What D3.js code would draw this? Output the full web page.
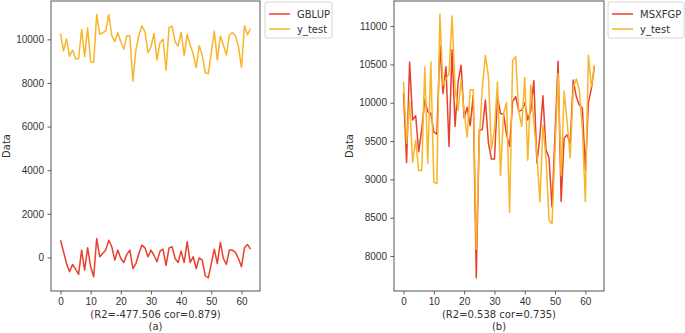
<!DOCTYPE html>
<html>
<head>
<meta charset="utf-8">
<script src="https://cdn.jsdelivr.net/npm/d3@7"></script>
<style>
  body { margin: 0; background: #fff; }
  svg { display: block; font-family: "DejaVu Sans", sans-serif; }
</style>
</head>
<body>
<script>
// chart values
const yTest = [10270, 9470, 10020, 9225, 9510, 9115, 9115, 10465, 9210, 10530,
  8960, 8945, 11155, 10230, 10310, 10380, 11130, 10180, 9900, 10300,
  9880, 9550, 10170, 10170, 8085, 9510, 10200, 10620, 10350, 9390,
  9660, 10270, 9050, 9860, 10000, 8570, 10550, 10600, 9890, 9690,
  10330, 9250, 10230, 9740, 9330, 8705, 9710, 9280, 8470, 8420,
  9390, 10380, 9050, 10150, 9740, 9280, 10200, 10310, 10170, 9660,
  8710, 10620, 10210, 10490];

const gblup = [790, 260, -280, -660, -320, -540, -780, 335, -580, 440,
  -430, -890, 870, 30, 180, 335, 790, 490, -120, 335,
  -50, -230, 140, 335, -510, -280, 180, 565, 440, 30,
  335, 100, -200, 290, 380, -360, 440, 490, -50, -230,
  290, -230, 720, -230, 30, -510, -20, -120, -840, -935,
  -280, 380, -280, 690, -50, -320, 335, 335, 230, -50,
  -430, 440, 595, 380];

const msxfgp = [10130, 9220, 10530, 9775, 9830, 9360, 9650, 10040, 9880, 9860,
  9620, 9590, 10750, 10120, 10470, 9430, 10690, 9690, 10270, 10490,
  9800, 9940, 9700, 10100, 7715, 9645, 9650, 10035, 9475, 9265,
  9265, 10080, 9860, 9850, 9580, 9430, 10015, 10080, 9890, 9900,
  10000, 9775, 9900, 10290, 9215, 9560, 10090, 9385, 9280, 8640,
  9600, 10540, 8710, 9540, 9580, 9470, 10295, 10080, 9970, 9930,
  9125, 10000, 10190, 10470];

const leftTicks = [0, 2000, 4000, 6000, 8000, 10000];
const rightTicks = [8000, 8500, 9000, 9500, 10000, 10500, 11000];
const xTicks = [0, 10, 20, 30, 40, 50, 60];

const RED = '#e8402c';
const ORANGE = '#f9b52a';

const svg = d3.select('body').append('svg')
  .attr('width', 685)
  .attr('height', 333);

// matplotlib style 5% margin around data
function padded(vals) {
  const [lo, hi] = d3.extent(vals);
  const m = (hi - lo) * 0.05;
  return [lo - m, hi + m];
}

function panel(p) {
  const idx = d3.range(p.series[0].values.length);
  const x = d3.scaleLinear().domain(padded(idx)).range([p.x0, p.x1]);
  const y = d3.scaleLinear()
    .domain(padded(p.series.flatMap(s => s.values)))
    .range([p.y1, p.y0]);

  const g = svg.append('g');

  const line = d3.line().x((d, i) => x(i)).y(d => y(d));

  g.append('defs').append('clipPath').attr('id', 'clip' + p.id)
    .append('rect')
    .attr('x', p.x0).attr('y', p.y0)
    .attr('width', p.x1 - p.x0).attr('height', p.y1 - p.y0);

  g.append('g').attr('clip-path', `url(#clip${p.id})`)
    .selectAll('path')
    .data(p.series)
    .enter().append('path')
    .attr('fill', 'none')
    .attr('stroke', d => d.color)
    .attr('stroke-width', 1.5)
    .attr('stroke-linejoin', 'round')
    .attr('d', d => line(d.values));

  // axes
  const xa = g.append('g')
    .attr('transform', `translate(0,${p.y1})`)
    .call(d3.axisBottom(x).tickValues(xTicks).tickSize(3.5).tickPadding(3.5));
  const ya = g.append('g')
    .attr('transform', `translate(${p.x0},0)`)
    .call(d3.axisLeft(y).tickValues(p.ticks).tickSize(3.5).tickPadding(3.5).tickFormat(d3.format('d')));
  [xa, ya].forEach(a => {
    a.select('.domain').remove();
    a.selectAll('line').attr('stroke', '#333').attr('stroke-width', 0.8);
    a.selectAll('text').attr('fill', '#333').style('font-size', '10px');
  });

  g.append('rect')
    .attr('x', p.x0).attr('y', p.y0)
    .attr('width', p.x1 - p.x0).attr('height', p.y1 - p.y0)
    .attr('fill', 'none')
    .attr('stroke', '#555')
    .attr('stroke-width', 1);

  g.append('text')
    .attr('transform', `translate(${p.yLabelX},${(p.y0 + p.y1) / 2}) rotate(-90)`)
    .attr('text-anchor', 'middle')
    .attr('dy', '0.35em')
    .attr('fill', '#333')
    .style('font-size', '10px')
    .text('Data');

  const cx = (p.x0 + p.x1) / 2;
  g.append('text')
    .attr('x', cx).attr('y', 318)
    .attr('text-anchor', 'middle')
    .attr('fill', '#333')
    .style('font-size', '10px')
    .text(p.caption);
  g.append('text')
    .attr('x', cx).attr('y', 330)
    .attr('text-anchor', 'middle')
    .attr('fill', '#333')
    .style('font-size', '10px')
    .text(p.tag);

  // legend
  const lg = g.append('g').attr('transform', `translate(${p.legendX},2)`);
  lg.append('rect')
    .attr('width', p.legendW).attr('height', 36)
    .attr('rx', 2)
    .attr('fill', '#fff')
    .attr('stroke', '#ccc')
    .attr('stroke-width', 0.8);
  const items = lg.selectAll('g.item')
    .data([p.series[p.legendOrder[0]], p.series[p.legendOrder[1]]])
    .enter().append('g')
    .attr('transform', (d, i) => `translate(0,${12 + i * 15})`);
  items.append('line')
    .attr('x1', 4).attr('x2', 25)
    .attr('stroke', d => d.color)
    .attr('stroke-width', 1.5);
  items.append('text')
    .attr('x', 32)
    .attr('dy', '0.35em')
    .attr('fill', '#333')
    .style('font-size', '10px')
    .text(d => d.name);
}

panel({
  id: 'a', x0: 51, x1: 260, y0: 1, y1: 291,
  series: [
    {name: 'GBLUP', values: gblup, color: RED},
    {name: 'y_test', values: yTest, color: ORANGE}
  ],
  legendOrder: [0, 1],
  ticks: leftTicks, yLabelX: 6,
  caption: '(R2=-477.506 cor=0.879)', tag: '(a)',
  legendX: 265, legendW: 67
});

panel({
  id: 'b', x0: 394, x1: 604, y0: 1, y1: 291,
  series: [
    {name: 'MSXFGP', values: msxfgp, color: RED},
    {name: 'y_test', values: yTest, color: ORANGE}
  ],
  legendOrder: [0, 1],
  ticks: rightTicks, yLabelX: 349,
  caption: '(R2=0.538 cor=0.735)', tag: '(b)',
  legendX: 608, legendW: 76
});
</script>
</body>
</html>
